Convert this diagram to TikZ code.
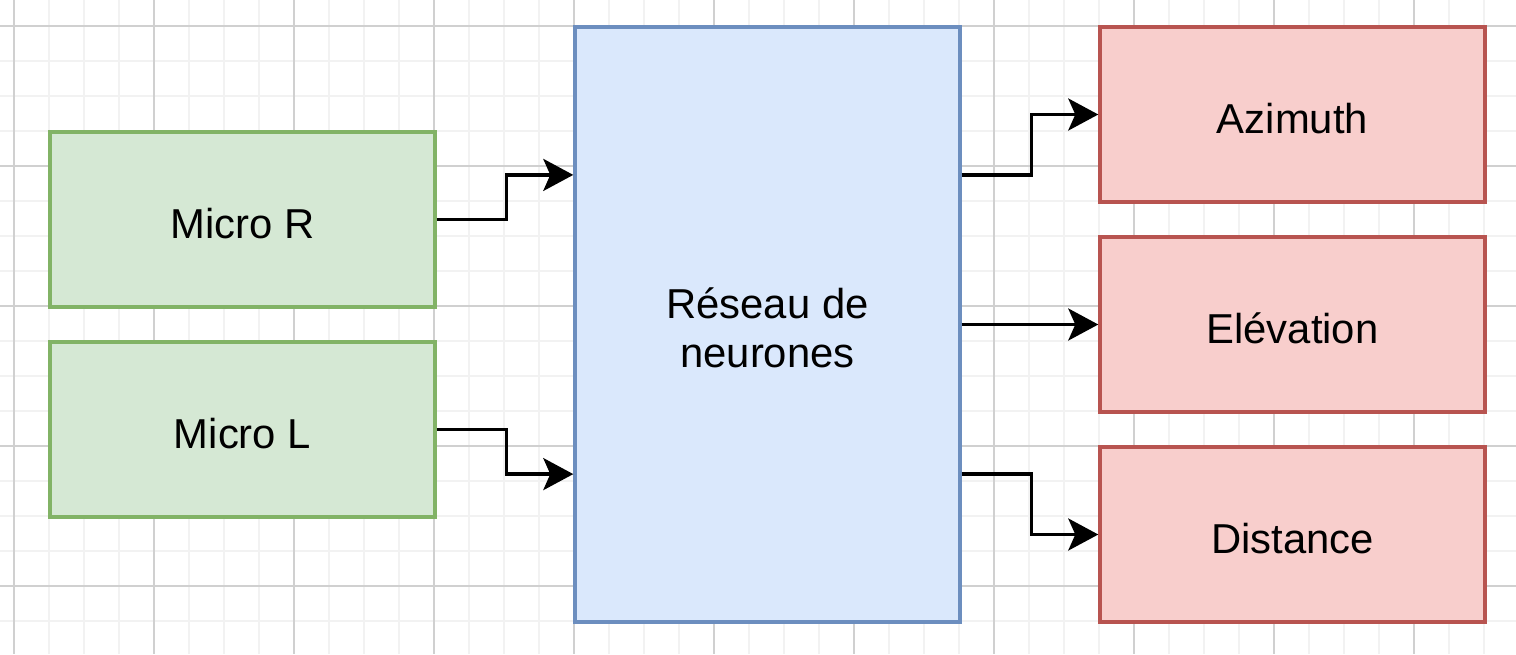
\documentclass[tikz,border=0pt]{standalone}
\usepackage{fontspec}
\setmainfont{Liberation Sans}
\usepackage{tikz}
\usetikzlibrary{arrows.meta, positioning, calc}
\definecolor{gridminor}{RGB}{242,242,242}
\definecolor{gridmajor}{RGB}{208,208,208}
\definecolor{ingreen}{RGB}{130,179,102}
\definecolor{hdrgreen}{RGB}{213,232,212}
\definecolor{netblue}{RGB}{108,142,191}
\definecolor{hdrblue}{RGB}{218,232,252}
\definecolor{outred}{RGB}{184,84,80}
\definecolor{hdrred}{RGB}{248,206,204}
\tikzset{
  inblock/.style={rectangle,draw=ingreen,fill=hdrgreen,minimum width=7.7cm,
    minimum height=3.5cm,line width=0.07cm,text height=0.75cm,text depth=0pt,
    font=\fontsize{23.8}{28.5}\selectfont},
  netblock/.style={rectangle,draw=netblue,fill=hdrblue,minimum width=7.7cm,
    minimum height=11.9cm,line width=0.07cm,align=center,font=\fontsize{23.8}{28.5}\selectfont},
  outblock/.style={rectangle,draw=outred,fill=hdrred,minimum width=7.7cm,
    minimum height=3.5cm,line width=0.07cm,text height=0.75cm,text depth=0pt,
    font=\fontsize{23.8}{28.5}\selectfont},
  arrow/.style={-{Stealth[length=0.6cm,width=0.64cm,inset=0.14cm]},line width=0.07cm,color=black}
}
\begin{document}
\begin{tikzpicture}[x=0.02cm, y=-0.02cm]
  \useasboundingbox (0,0) rectangle (1516,654);
  \fill[white] (0,0) rectangle (1516,654);

  % Background grid
  \foreach \gx in {49,84,...,1519} \draw[gridminor, line width=0.05cm] (\gx,0) -- (\gx,654);
  \foreach \gy in {-9,26,...,656} \draw[gridminor, line width=0.05cm] (0,\gy) -- (1516,\gy);
  \foreach \gx in {14,154,...,1414} \draw[gridmajor, line width=0.03cm] (\gx,0) -- (\gx,654);
  \foreach \gy in {26,166,...,586} \draw[gridmajor, line width=0.03cm] (0,\gy) -- (1516,\gy);

  % Inputs
  \node[inblock] (micR) at (242.5,219.5) {Micro R};
  \node[inblock] (micL) at (242.5,429.5) {Micro L};

  % Network
  \node[netblock] (net) at (767.5,324.5) {\raisebox{-0.39cm}[0pt][0pt]{\begin{tabular}{@{}c@{}}Réseau de\\[-0.03cm]neurones\end{tabular}}};

  % Outputs
  \node[outblock] (azim) at (1292.5,114.5) {Azimuth};
  \node[outblock] (elev) at (1292.5,324.5) {Elévation};
  \node[outblock] (dist) at (1292.5,534.5) {Distance};

  % Connection points on the network
  \coordinate (netin1) at ($(net.north west)!0.25!(net.south west)$);
  \coordinate (netin2) at ($(net.north west)!0.75!(net.south west)$);
  \coordinate (netout1) at ($(net.north east)!0.25!(net.south east)$);
  \coordinate (netout2) at ($(net.north east)!0.75!(net.south east)$);

  % Connectors
  \draw[arrow] (micR.east) -- ++(70,0) |- (netin1);
  \draw[arrow] (micL.east) -- ++(70,0) |- (netin2);
  \draw[arrow] (netout1) -- ++(70,0) |- (azim.west);
  \draw[arrow] (net.east) -- (elev.west);
  \draw[arrow] (netout2) -- ++(70,0) |- (dist.west);
\end{tikzpicture}
\end{document}
